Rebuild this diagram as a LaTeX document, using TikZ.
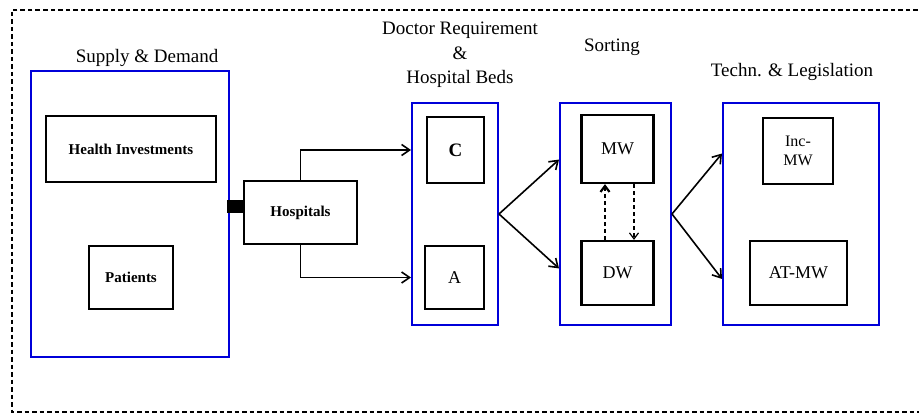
\documentclass[tikz,border=0pt]{standalone}
\usepackage{fontspec}
\setmainfont{Liberation Serif}
\usetikzlibrary{arrows.meta,calc}
\begin{document}
\begin{tikzpicture}[x=1pt,y=-1pt,
  bluebox/.style={draw=blue!85!black, line width=2pt, inner sep=0pt},
  blackbox/.style={draw=black, line width=2.3pt, inner sep=0pt, align=center},
  ttl/.style={font=\fontsize{19}{25}\selectfont, inner sep=0pt, align=center},
  sm/.style={font=\fontsize{15}{18}\selectfont\bfseries},
  bg/.style={font=\fontsize{18}{20}\selectfont},
  arr/.style={-{Straight Barb[length=8pt,width=11pt,line width=1.6pt]}, line width=1.6pt},
  darr/.style={-{Straight Barb[length=6pt,width=9pt]}, dashed, dash pattern=on 4pt off 3pt}
]
\useasboundingbox (0,0) rectangle (919,414);
\draw[line width=1.6pt, dash pattern=on 4.5pt off 3pt] (925,10) -- (12,10) -- (12,412) -- (925,412);

% titles
\node[ttl] (tsd) at (147,58) {Supply \& Demand};
\node[ttl] (tdoc) at (460,55) {Doctor Requirement\\[-0.5pt]\&\\[-0.5pt]Hospital Beds};
\node[ttl] (tsort) at (612,47) {Sorting};
\node[ttl] (ttech) at (792,72) {Techn. \& Legislation};

% blue containers
\node[bluebox, minimum width=198pt, minimum height=286pt] (sd) at (130,214) {};
\node[bluebox, minimum width=86pt, minimum height=222pt] (doc) at (455,214) {};
\node[bluebox, minimum width=111pt, minimum height=222pt] (sort) at (615.5,214) {};
\node[bluebox, minimum width=156pt, minimum height=222pt] (tech) at (801,214) {};

% inner boxes
\node[blackbox, sm, minimum width=170pt, minimum height=66pt] (hi) at (131,149) {Health Investments};
\node[blackbox, sm, minimum width=84pt, minimum height=63pt] (pat) at (131,277.5) {Patients};
\node[blackbox, sm, minimum width=113pt, minimum height=63pt] (hosp) at (300.5,212.5) {Hospitals};
\node[fill=black, inner sep=0pt, minimum width=17pt, minimum height=13pt] (plug) at (235.5,206.5) {};
\node[blackbox, font=\fontsize{19}{20}\selectfont\bfseries, minimum width=57pt, minimum height=66pt] (C) at (455.5,150) {C};
\node[blackbox, bg, minimum width=59pt, minimum height=63pt] (A) at (454.5,277.5) {A};
\node[blackbox, bg, minimum width=72pt, minimum height=68pt] (MW) at (617.5,149) {MW};
\node[blackbox, bg, minimum width=72pt, minimum height=64pt] (DW) at (617.5,273) {DW};
\node[blackbox, font=\fontsize{16}{19}\selectfont, minimum width=70pt, minimum height=66pt] (inc) at (798,151) {Inc-\\MW};
\node[blackbox, bg, minimum width=97pt, minimum height=64pt] (at) at (798.5,273) {AT-MW};

% connectors
\draw[arr] (hosp.north) |- (doc.west |- C);
\draw[arr, line width=1.2pt] (hosp.south) |- (doc.west |- A);
\draw[arr] (doc.east) -- ($(sort.north west)!0.257!(sort.south west)$);
\draw[arr] (doc.east) -- ($(sort.north west)!0.743!(sort.south west)$);
\draw[arr] (sort.east) -- ($(tech.north west)!0.23!(tech.south west)$);
\draw[arr] (sort.east) -- ($(tech.north west)!0.79!(tech.south west)$);
\draw[darr, line width=2.2pt] ([xshift=-12.5pt]DW.north) -- ([xshift=-12.5pt]MW.south);
\draw[darr, line width=1.2pt] ([xshift=16.5pt]MW.south) -- ([xshift=16.5pt]DW.north);
\end{tikzpicture}
\end{document}
